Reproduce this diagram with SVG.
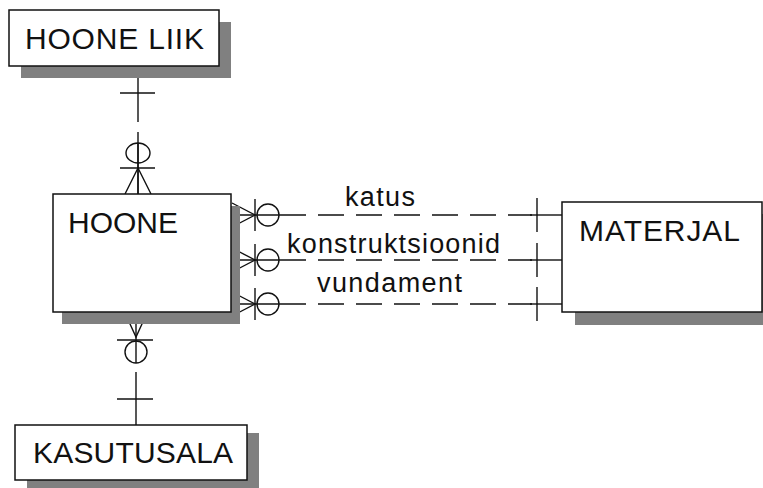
<svg xmlns="http://www.w3.org/2000/svg" width="763" height="488" viewBox="0 0 763 488">
<style>
.shadow{fill:#808080;stroke:none}
.box{fill:#fff;stroke:#111;stroke-width:1.5}
.name{font-family:"Liberation Sans",Arial,sans-serif;font-size:30px;fill:#111}
.lbl{font-family:"Liberation Sans",Arial,sans-serif;font-size:27px;fill:#111}
.ln{stroke:#111;stroke-width:1.4;fill:none}
.dash{stroke:#111;stroke-width:1.4;fill:none;stroke-dasharray:26 12}
</style>
<rect x="0" y="0" width="763" height="488" fill="#fff"/>
<g id="connectors">
  <!-- HOONE LIIK - HOONE -->
  <line class="ln" x1="138" y1="66" x2="138" y2="122"/>
  <line class="ln" x1="120" y1="93" x2="155" y2="93"/>
  <line class="ln" x1="138" y1="132" x2="138" y2="194"/>
  <ellipse class="ln" cx="138" cy="153" rx="12" ry="10" fill="#fff"/>
  <line class="ln" x1="138" y1="143" x2="138" y2="194"/>
  <line class="ln" x1="120" y1="168" x2="155" y2="168"/>
  <polyline class="ln" points="125,194 138,168 151,194"/>
  <!-- HOONE - KASUTUSALA -->
  <line class="ln" x1="136" y1="312" x2="136" y2="363"/>
  <polyline class="ln" points="125,313 136,337 147,313"/>
  <line class="ln" x1="117" y1="340" x2="153" y2="340"/>
  <circle class="ln" cx="136" cy="352" r="11"/>
  <line class="ln" x1="136" y1="372" x2="136" y2="425"/>
  <line class="ln" x1="117" y1="399" x2="153" y2="399"/>
  <!-- katus -->
  <line class="ln" x1="231" y1="215" x2="280" y2="215"/>
  <polyline class="ln" points="232,203 255,215 232,227"/>
  <line class="ln" x1="255" y1="199" x2="255" y2="231"/>
  <circle class="ln" cx="268" cy="215" r="11"/>
  <line class="dash" x1="280" y1="215" x2="532" y2="215"/>
  <line class="ln" x1="530" y1="215" x2="562" y2="215"/>
  <line class="ln" x1="537" y1="198" x2="537" y2="232"/>
  <!-- konstruktsioonid -->
  <line class="ln" x1="231" y1="260" x2="280" y2="260"/>
  <polyline class="ln" points="232,248 255,260 232,272"/>
  <line class="ln" x1="255" y1="244" x2="255" y2="276"/>
  <circle class="ln" cx="268" cy="260" r="11"/>
  <line class="dash" x1="280" y1="260" x2="532" y2="260"/>
  <line class="ln" x1="530" y1="260" x2="562" y2="260"/>
  <line class="ln" x1="537" y1="243" x2="537" y2="277"/>
  <!-- vundament -->
  <line class="ln" x1="231" y1="304" x2="280" y2="304"/>
  <polyline class="ln" points="232,292 255,304 232,316"/>
  <line class="ln" x1="255" y1="288" x2="255" y2="320"/>
  <circle class="ln" cx="268" cy="304" r="11"/>
  <line class="dash" x1="280" y1="304" x2="532" y2="304"/>
  <line class="ln" x1="530" y1="304" x2="562" y2="304"/>
  <line class="ln" x1="537" y1="287" x2="537" y2="321"/>
  <text class="lbl" x="345" y="206" textLength="70" lengthAdjust="spacing">katus</text>
  <text class="lbl" x="287" y="253" textLength="213" lengthAdjust="spacing">konstruktsioonid</text>
  <text class="lbl" x="317" y="292" textLength="145" lengthAdjust="spacing">vundament</text>
</g>
<g id="hoone-liik">
  <rect class="shadow" x="21" y="22" width="210" height="56"/>
  <rect class="box" x="9" y="10" width="210" height="56"/>
  <text class="name" x="25" y="49" textLength="179" lengthAdjust="spacing">HOONE LIIK</text>
</g>
<g id="hoone">
  <rect class="shadow" x="62" y="206" width="178" height="118"/>
  <rect class="box" x="53" y="194" width="178" height="118"/>
  <text class="name" x="68" y="233">HOONE</text>
</g>
<g id="materjal">
  <rect class="shadow" x="575" y="214" width="200" height="111"/>
  <rect class="box" x="562" y="202" width="200" height="110"/>
  <text class="name" x="579" y="241" textLength="161" lengthAdjust="spacing">MATERJAL</text>
</g>
<g id="kasutusala">
  <rect class="shadow" x="27" y="433" width="232" height="55"/>
  <rect class="box" x="15" y="425" width="232" height="55"/>
  <text class="name" x="33" y="463" textLength="200" lengthAdjust="spacing">KASUTUSALA</text>
</g>
</svg>
